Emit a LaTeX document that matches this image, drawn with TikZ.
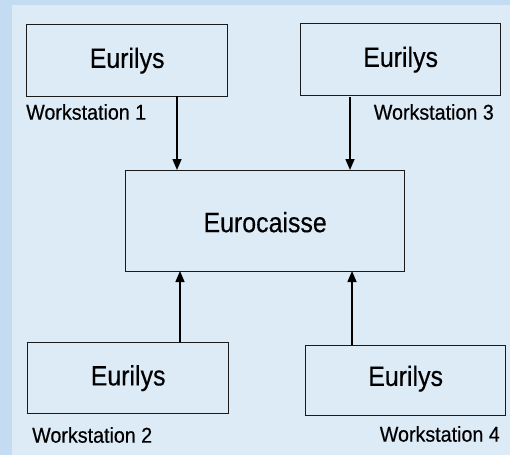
\documentclass[tikz,border=0pt]{standalone}
\usepackage{fontspec}
\setmainfont{Liberation Sans}[FakeStretch=0.92,FakeBold=0.4]
\newfontfamily\bigfam{Liberation Sans}[FakeStretch=0.89,FakeBold=0.4]
\usetikzlibrary{arrows.meta}
\definecolor{bgouter}{HTML}{C4DCF1}
\definecolor{bginner}{HTML}{DDEBF7}
\definecolor{linecol}{HTML}{1A1A1A}
\tikzset{
  box/.style={draw=linecol, line width=1.3pt, fill=none, inner sep=0pt, anchor=north west},
  bigtext/.style={font=\bigfam\fontsize{28}{31}\selectfont, text=black},
  wslabel/.style={font=\fontsize{21.4}{24}\selectfont, text=black, inner sep=0pt},
  conn/.style={draw=black, line width=1.5pt, -{Triangle[length=11pt,width=9pt]}}
}
\begin{document}
\begin{tikzpicture}[x=1pt,y=-1pt]
\useasboundingbox (0,0) rectangle (510,455);
\fill[bgouter] (0,0) rectangle (510,455);
\fill[bginner] (12,5) rectangle (510,455);
% boxes
\node[box, minimum width=201pt, minimum height=72pt] (w1) at (26,24) {};
\node[bigtext] at (w1.center) {Eurilys};
\node[box, minimum width=200pt, minimum height=72pt] (w3) at (300,23) {};
\node[bigtext] at (w3.center) {Eurilys};
\node[box, minimum width=279pt, minimum height=101pt] (ec) at (125,170) {};
\node[bigtext] at ([yshift=-1pt]ec.center) {Eurocaisse};
\node[box, minimum width=201pt, minimum height=71pt] (w2) at (27,342) {};
\node[bigtext] at (w2.center) {Eurilys};
\node[box, minimum width=200pt, minimum height=70pt] (w4) at (305,345) {};
\node[bigtext] at ([yshift=2pt]w4.center) {Eurilys};
% labels
\node[wslabel, anchor=west] (l1) at (26,112) {Workstation 1};
\node[wslabel, anchor=east] (l3) at (494,112) {Workstation 3};
\node[wslabel, anchor=west] (l2) at (32,435) {Workstation 2};
\node[wslabel, anchor=east] (l4) at (500,434) {Workstation 4};
% connectors
\coordinate (a1s) at (177,96);
\coordinate (a1e) at (177,170);
\coordinate (a3s) at (350,97);
\coordinate (a3e) at (350,170);
\coordinate (a2s) at (180,342);
\coordinate (a2e) at (180,271);
\coordinate (a4s) at (352,345);
\coordinate (a4e) at (352,271);
\draw[conn] (a1s) -- (a1e);
\draw[conn] (a3s) -- (a3e);
\draw[conn] (a2s) -- (a2e);
\draw[conn] (a4s) -- (a4e);
\end{tikzpicture}
\end{document}
